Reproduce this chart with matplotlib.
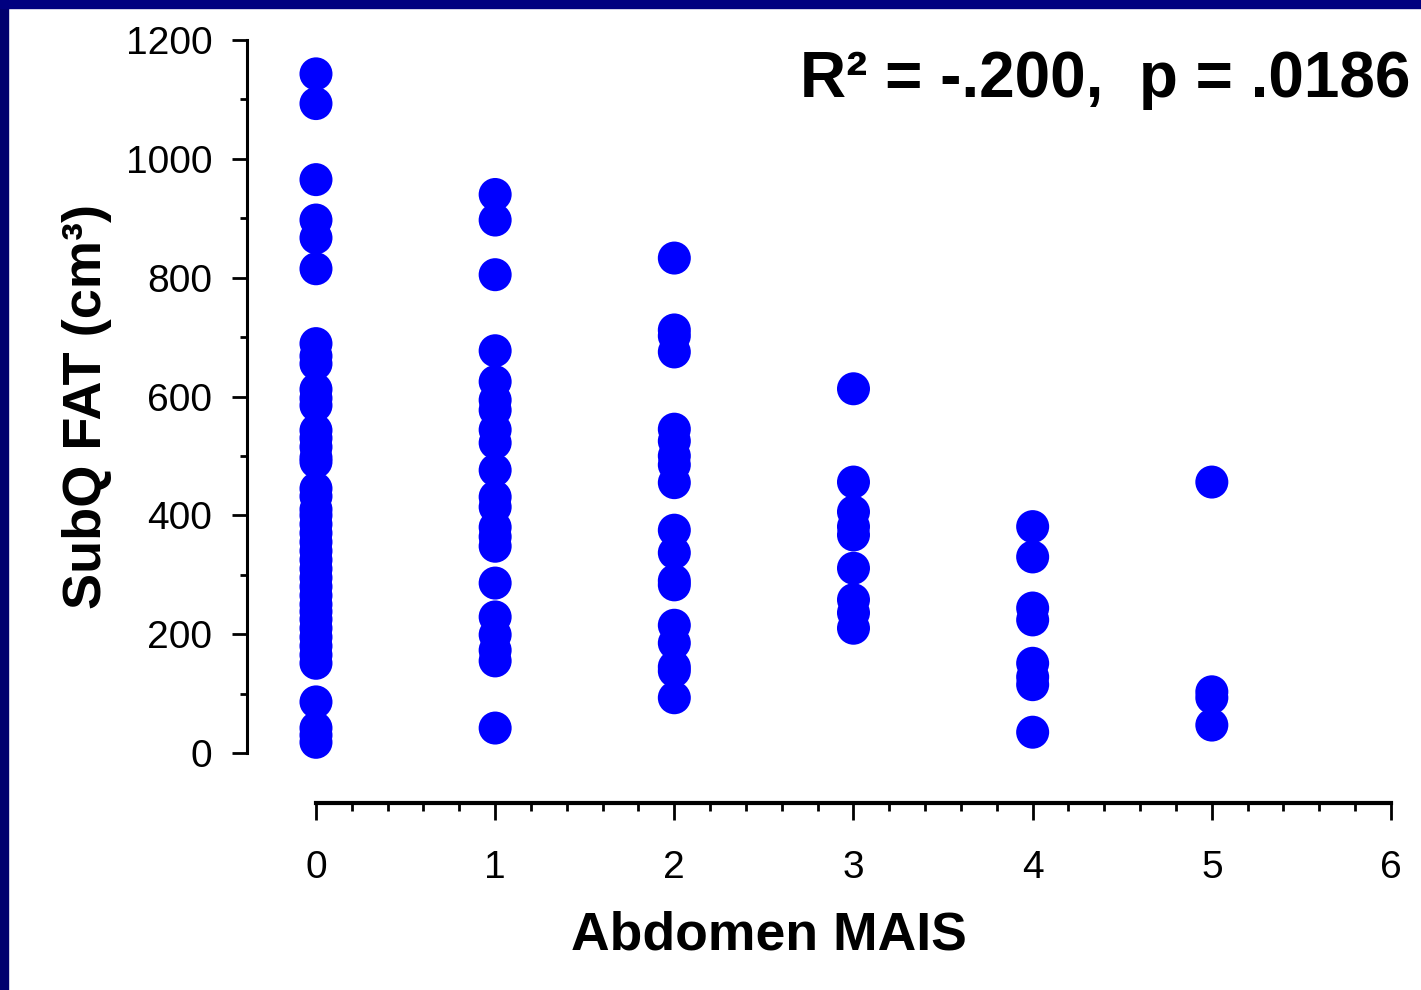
import numpy as np
import matplotlib.pyplot as plt
from matplotlib.patches import Rectangle
from matplotlib.ticker import MultipleLocator, FixedLocator

plt.rcParams['font.family'] = ['Liberation Sans', 'DejaVu Sans']

#Data, one list per MAIS grade
mais_0 = [1143, 1093, 965, 897, 867, 815, 689, 668, 655, 612, 597, 585, 543, 530,
          515, 497, 490, 445, 432, 410, 400, 385, 370, 355, 340, 325, 310, 295,
          280, 265, 250, 238, 225, 210, 195, 180, 165, 151, 86, 42, 30, 18]
mais_1 = [940, 897, 805, 677, 625, 594, 577, 544, 522, 476, 431, 414, 380, 364,
          348, 286, 229, 199, 173, 155, 42]
mais_2 = [833, 712, 702, 675, 545, 525, 500, 485, 455, 375, 337, 290, 283, 215,
          185, 145, 138, 93]
mais_3 = [613, 456, 406, 381, 367, 311, 258, 236, 210]
mais_4 = [381, 330, 244, 224, 151, 128, 115, 35]
mais_5 = [456, 103, 93, 47]

groups = [mais_0, mais_1, mais_2, mais_3, mais_4, mais_5]
stat_text = 'R\u00b2 = -.200,  p = .0186'

W, H = 1421, 990
fig = plt.figure(figsize=(W / 100, H / 100), dpi=100)

#Navy frame strips (left and top)
fig.patches.append(Rectangle((0, 0), 8 / W, 1, transform=fig.transFigure,
                             color='#00006e', zorder=0))
fig.patches.append(Rectangle((0, 1 - 8 / H), 1, 8 / H, transform=fig.transFigure,
                             color='#000080', zorder=0))

ax = fig.add_axes([247 / W, 1 - 803 / H, (1391 - 247) / W, (803 - 40) / H])

for grade, vals in enumerate(groups):
    ax.scatter(np.full(len(vals), grade), vals, s=565, color='#0000ff',
               edgecolors='none', clip_on=False, zorder=3)

ax.set_xlim(-0.385, 6)
ax.set_ylim(-84.15, 1200)

for side in ['top', 'right']:
    ax.spines[side].set_visible(False)
ax.spines['left'].set_bounds(0, 1200)
ax.spines['bottom'].set_bounds(0, 6)
ax.spines['left'].set_linewidth(2.2)
ax.spines['bottom'].set_linewidth(3)

ax.xaxis.set_major_locator(MultipleLocator(1))
ax.xaxis.set_minor_locator(FixedLocator(np.arange(0, 6.01, 0.2)))
ax.yaxis.set_major_locator(MultipleLocator(200))
ax.yaxis.set_minor_locator(FixedLocator(np.arange(0, 1201, 100)))

ax.tick_params(axis='y', which='major', length=11, width=2, pad=14, labelsize=28)
ax.tick_params(axis='y', which='minor', length=5, width=2)
ax.tick_params(axis='x', which='major', length=12, width=2, pad=22, labelsize=28)
ax.tick_params(axis='x', which='minor', length=6, width=2)

ax.set_xlabel('Abdomen MAIS', fontsize=38.5, fontweight='bold')
ax.xaxis.set_label_coords((769 - 247) / 1144, -(950 - 803) / 763)
ax.xaxis.label.set_va('baseline')
ax.set_ylabel('SubQ FAT (cm\u00b3)', fontsize=39, fontweight='bold')
ax.yaxis.set_label_coords(-(247 - 62) / 1144, (803 - 406) / 763)
ax.yaxis.label.set_va('top')

fig.text(1410 / W, 1 - 97 / H, stat_text, ha='right', va='baseline',
         fontsize=46, fontweight='bold')

fig.savefig('out.png', dpi=100)
